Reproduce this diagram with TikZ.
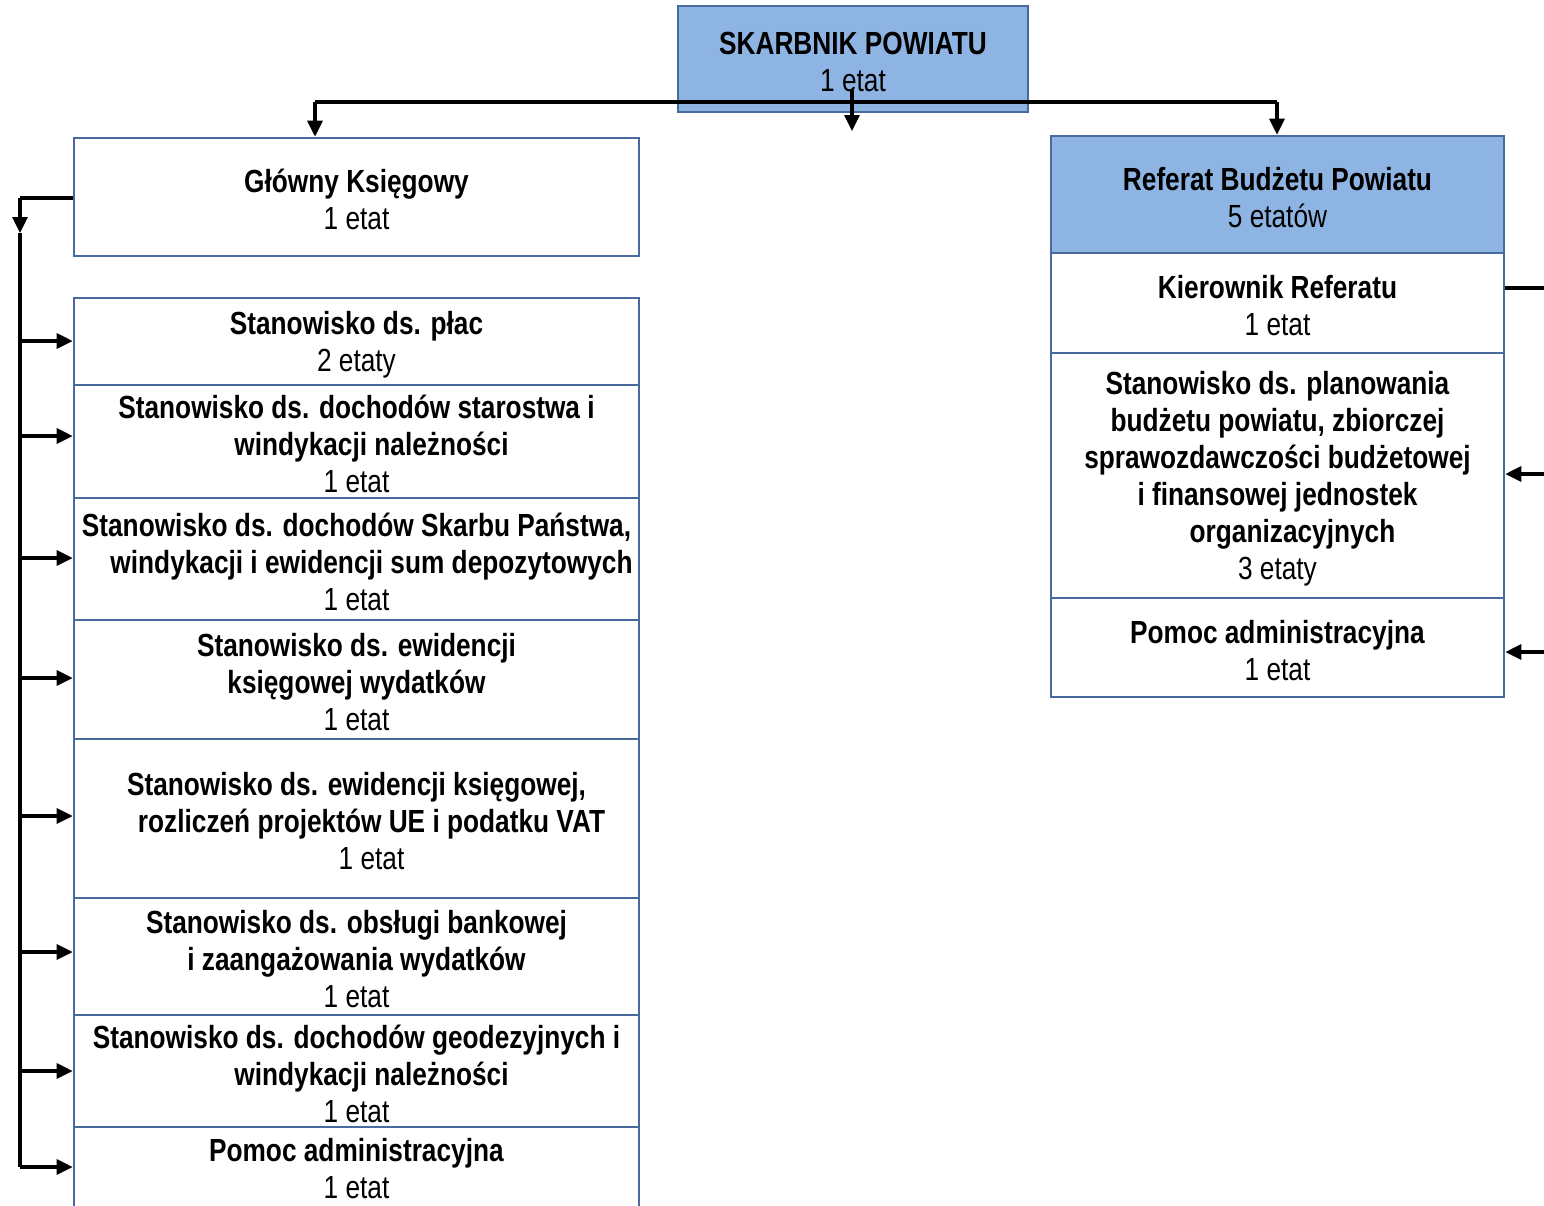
\documentclass[tikz,border=0pt]{standalone}
\usepackage{fontspec}
\setmainfont{Liberation Sans}[FakeStretch=0.82]
\usetikzlibrary{arrows.meta}
\definecolor{boxblue}{RGB}{141,180,226}
\definecolor{edgeblue}{RGB}{72,106,156}
\begin{document}
\begin{tikzpicture}[x=0.5pt,y=-0.5pt,
  box/.style={draw=edgeblue,line width=1.3pt,fill=white,align=center,inner sep=0pt,
    font=\fontsize{16}{18.5}\selectfont},
  bluebox/.style={box,fill=boxblue},
  conn/.style={line width=1.6pt,black},
  arr/.style={conn,-{Triangle[length=8pt,width=7.5pt]}}]
\useasboundingbox (0,0) rectangle (1544,1206);
\clip (0,0) rectangle (1544,1206);
\newcommand{\sh}{\hspace*{15pt}}
\newcommand{\dn}{\rule{0pt}{14.5pt}}
% top
\node[bluebox,minimum width=175pt,minimum height=53pt] (top) at (853,59)
  {\dn\textbf{SKARBNIK POWIATU}\\1 etat};
% left column
\node[box,minimum width=282.5pt,minimum height=59pt] (gk) at (356.5,197)
  {\dn\textbf{Główny Księgowy}\\1 etat};
\node[box,minimum width=282.5pt,minimum height=43.5pt] (p1) at (356.5,341.5)
  {\dn\textbf{Stanowisko ds. płac}\\2 etaty};
\node[box,minimum width=282.5pt,minimum height=56.5pt] (p2) at (356.5,441.5)
  {\dn\textbf{Stanowisko ds. dochodów starostwa i}\\\sh\textbf{windykacji należności}\\1 etat};
\node[box,minimum width=282.5pt,minimum height=61pt] (p3) at (356.5,559)
  {\dn\textbf{Stanowisko ds. dochodów Skarbu Państwa,}\\\sh\textbf{windykacji i ewidencji sum depozytowych}\\1 etat};
\node[box,minimum width=282.5pt,minimum height=59.5pt] (p4) at (356.5,679.5)
  {\dn\textbf{Stanowisko ds. ewidencji}\\\textbf{księgowej wydatków}\\1 etat};
\node[box,minimum width=282.5pt,minimum height=79.5pt] (p5) at (356.5,818.5)
  {\dn\textbf{Stanowisko ds. ewidencji księgowej,}\\\sh\textbf{rozliczeń projektów UE i podatku VAT}\\\sh 1 etat};
\node[box,minimum width=282.5pt,minimum height=58.5pt] (p6) at (356.5,956.5)
  {\dn\textbf{Stanowisko ds. obsługi bankowej}\\\textbf{i zaangażowania wydatków}\\1 etat};
\node[box,minimum width=282.5pt,minimum height=56pt] (p7) at (356.5,1071)
  {\dn\textbf{Stanowisko ds. dochodów geodezyjnych i}\\\sh\textbf{windykacji należności}\\1 etat};
\node[box,minimum width=282.5pt,minimum height=41.5pt] (p8) at (356.5,1168.5)
  {\textbf{Pomoc administracyjna}\\1 etat};
% right column
\node[bluebox,minimum width=226.5pt,minimum height=58.5pt] (r0) at (1277.5,194.5)
  {\dn\textbf{Referat Budżetu Powiatu}\\5 etatów};
\node[box,minimum width=226.5pt,minimum height=50pt] (r1) at (1277.5,303)
  {\dn\textbf{Kierownik Referatu}\\1 etat};
\node[box,minimum width=226.5pt,minimum height=122.5pt] (r2) at (1277.5,475.5)
  {\dn\textbf{Stanowisko ds. planowania}\\\textbf{budżetu powiatu, zbiorczej}\\\textbf{sprawozdawczości budżetowej}\\\textbf{i finansowej jednostek}\\\sh\textbf{organizacyjnych}\\3 etaty};
\node[box,minimum width=226.5pt,minimum height=49.5pt] (r3) at (1277.5,647.5)
  {\dn\textbf{Pomoc administracyjna}\\1 etat};
% top connectors
\coordinate (hl) at (315,102);
\coordinate (hr) at (1277,102);
\coordinate (c1) at (852,90);
\coordinate (c2) at (852,131);
\draw[conn] (hl) -- (hr);
\draw[arr] (hl) -- (hl |- gk.north);
\draw[arr] (hr) -- (hr |- r0.north);
\draw[arr] (c1) -- (c2);
% left connectors
\coordinate (lv) at (20,198);
\coordinate (lm) at (20,233);
\coordinate (lb) at (20,1167);
\draw[conn] (gk.west |- lv) -- (lv);
\draw[arr] (lv) -- (lm);
\draw[conn] (lm) -- (lb);
\foreach \n/\yy in {p1/341,p2/436,p3/558,p4/678,p5/816,p6/952,p7/1071,p8/1167}{
  \coordinate (s\n) at (20,\yy);
  \draw[arr] (s\n) -- (s\n -| \n.west);
}
% right connectors
\coordinate (ra) at (1546,288);
\coordinate (rb) at (1546,474);
\coordinate (rc) at (1546,652);
\draw[conn] (ra -| r1.east) -- (ra);
\draw[arr] (rb) -- (rb -| r2.east);
\draw[arr] (rc) -- (rc -| r3.east);
\end{tikzpicture}
\end{document}
